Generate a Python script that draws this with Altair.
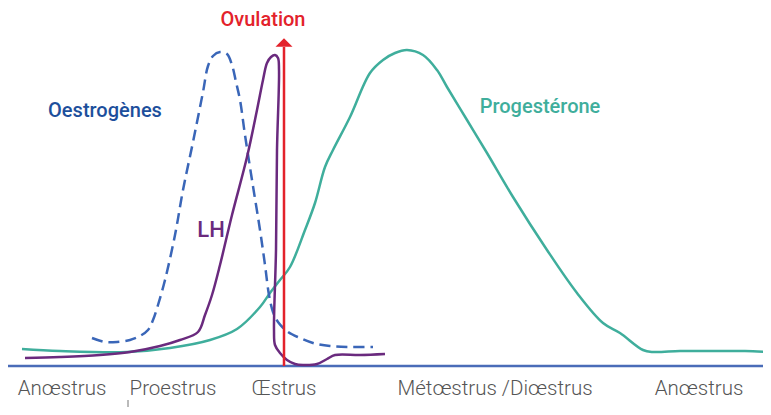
import altair as alt
import pandas as pd

# Progesterone (teal)
prog_x = [22, 60, 127, 170, 210, 237, 260, 270, 280, 290, 305, 315, 325, 333, 350, 370, 383, 395, 407, 423, 437, 447, 467, 487, 513, 547, 577, 603, 620, 643, 653, 680, 713, 745, 770]
prog_y = [349, 351, 352, 348, 340, 329, 307, 293, 280, 267, 230, 203, 167, 150, 117, 73, 60, 53, 50, 55, 70, 87, 120, 153, 197, 250, 293, 323, 333, 350, 352, 351, 351, 351, 352]

# Oestrogenes (dashed blue)
est_x = [92, 105, 117, 130, 140, 148, 153, 158, 165, 175, 183, 193, 203, 208, 213, 220, 227, 232, 236, 240, 245, 252, 260, 265, 269, 273, 278, 288, 300, 313, 330, 350, 373]
est_y = [338, 342, 342, 340, 336, 330, 320, 305, 280, 235, 190, 142, 92, 66, 56, 52, 54, 65, 82, 100, 135, 180, 230, 265, 295, 312, 322, 332, 338, 343, 346, 347, 347]

# LH (purple)
lh_x = [25, 60, 100, 130, 160, 180, 198, 205, 212, 220, 232, 247, 257, 263, 267, 271, 275, 278, 279, 277, 276, 274, 275, 280, 287, 295, 303, 317, 327, 335, 360, 385]
lh_y = [358, 357, 355, 352, 346, 340, 332, 315, 295, 265, 215, 157, 110, 80, 63, 57, 55, 58, 70, 150, 250, 330, 345, 353, 360, 364, 365, 364, 359, 355, 355, 354]

phase_labels = ["Anœstrus", "Proestrus", "Œstrus", "Métœstrus /Diœstrus", "Anœstrus"]
phase_x = [62, 173, 284, 495, 699]

BASE = 366  # pixel row of the baseline


def frame(xs, ys):
    return pd.DataFrame({"x": xs, "v": [BASE - y for y in ys], "o": list(range(len(xs)))})


xs = alt.Scale(domain=[8, 763], range=[0, 755], nice=False, zero=False)
ys = alt.Scale(domain=[-41, 358], range=[399, 0], nice=False, zero=False)
X = alt.X("x:Q", scale=xs, axis=None)
Y = alt.Y("v:Q", scale=ys, axis=None)

base_line = alt.Chart(pd.DataFrame({"x": [8, 771], "v": [0, 0]})).mark_line(
    color="#4a6cb8", strokeWidth=2.5).encode(x=X, y=Y)

prog = alt.Chart(frame(prog_x, prog_y)).mark_line(
    color="#3fae9c", strokeWidth=2.5, interpolate="catmull-rom").encode(x=X, y=Y, order="o:Q")
est = alt.Chart(frame(est_x, est_y)).mark_line(
    color="#3a66b8", strokeWidth=2.5, strokeDash=[11, 6], interpolate="catmull-rom").encode(x=X, y=Y, order="o:Q")
lh = alt.Chart(frame(lh_x, lh_y)).mark_line(
    color="#6a2a7e", strokeWidth=2.5, interpolate="catmull-rom").encode(x=X, y=Y, order="o:Q")

ovu_line = alt.Chart(pd.DataFrame({"x": [284, 284], "v": [0, BASE - 47]})).mark_line(
    color="#e3222b", strokeWidth=2.5).encode(x=X, y=Y)
ovu_head = alt.Chart(pd.DataFrame({"x": [284], "v": [BASE - 42.5]})).mark_point(
    shape="M-1,0.5L0,-0.5L1,0.5Z", filled=True, color="#e3222b", opacity=1, size=290).encode(x=X, y=Y)

def label(text, x, y, color, size, weight):
    return alt.Chart(pd.DataFrame({"x": [x], "v": [BASE - y], "t": [text]})).mark_text(
        font="Roboto", fontSize=size, fontWeight=weight, color=color, align="center", baseline="middle"
    ).encode(x=X, y=Y, text="t:N")

texts = [
    label("Ovulation", 263, 20, "#e3222b", 20, 500),
    label("Oestrogènes", 105, 111, "#1d4f9c", 20, 500),
    label("Progestérone", 540, 107, "#3fae9c", 20, 500),
    label("LH", 211, 230, "#6a2a7e", 22, 500),
]

phases = alt.Chart(pd.DataFrame({"x": phase_x, "v": [BASE - 389] * 5, "t": phase_labels})).mark_text(
    font="Roboto", fontSize=20.5, fontWeight=300, color="#555555", align="center", baseline="middle"
).encode(x=X, y=Y, text="t:N")

tick = alt.Chart(pd.DataFrame({"x": [128, 128], "v": [BASE - 400, BASE - 413]})).mark_line(
    color="#777777", strokeWidth=1).encode(x=X, y=Y)

chart = alt.layer(base_line, prog, est, lh, ovu_line, ovu_head, tick, phases, *texts).properties(
    width=755, height=399, padding=0, autosize="none"
).configure_view(stroke=None)

chart.save("out.html", embed_options={"renderer": "svg", "actions": False})
